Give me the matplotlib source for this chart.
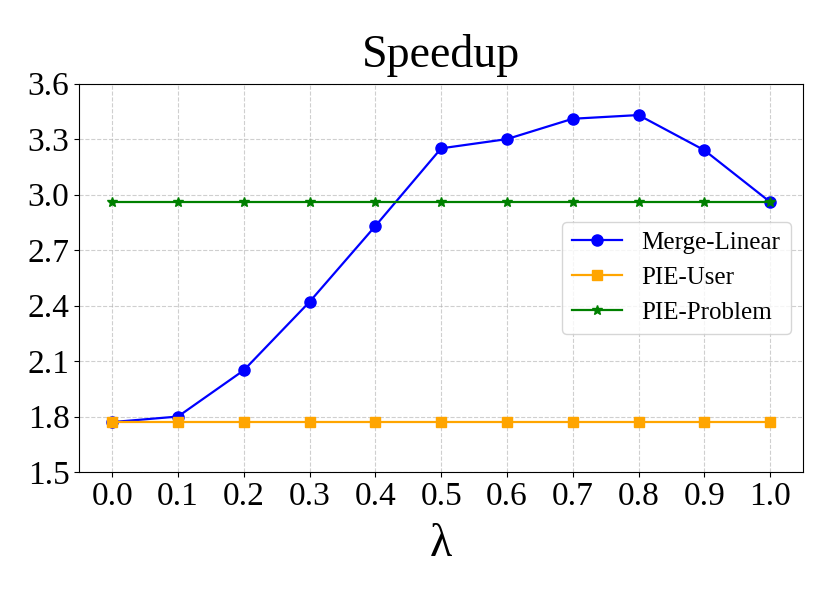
import matplotlib
matplotlib.use('Agg')
import matplotlib.pyplot as plt

plt.rcParams['font.family'] = ['Liberation Serif', 'DejaVu Serif']

lambdas = [0.0, 0.1, 0.2, 0.3, 0.4, 0.5, 0.6, 0.7, 0.8, 0.9, 1.0]
merge_linear = [1.77, 1.80, 2.05, 2.42, 2.83, 3.25, 3.30, 3.41, 3.43, 3.24, 2.96]
pie_user = [1.77] * 11
pie_problem = [2.96] * 11
yticks = [1.5, 1.8, 2.1, 2.4, 2.7, 3.0, 3.3, 3.6]

fig = plt.figure(figsize=(8.3, 5.93), dpi=100)
ax = fig.add_axes([0.0955, 0.204, 0.872, 0.655])

ax.plot(lambdas, merge_linear, color='blue', marker='o', markersize=8, linewidth=1.6, label='Merge-Linear')
ax.plot(lambdas, pie_user, color='orange', marker='s', markersize=7.5, linewidth=1.6, label='PIE-User')
ax.plot(lambdas, pie_problem, color='green', marker='*', markersize=7, linewidth=1.6, label='PIE-Problem')

ax.set_ylim(1.5, 3.6)
ax.set_yticks(yticks)
ax.set_xticks(lambdas)
ax.set_xticklabels(['%.1f' % v for v in lambdas])
ax.set_yticklabels(['%.1f' % v for v in yticks])
ax.tick_params(labelsize=24)
ax.grid(True, linestyle='--', color='#b0b0b0', alpha=0.6)

ax.set_title('Speedup', fontsize=33, pad=12)
ax.set_xlabel('λ', fontsize=33, labelpad=8)
ax.legend(loc='center right', fontsize=18)

fig.savefig('out.png', dpi=100)
